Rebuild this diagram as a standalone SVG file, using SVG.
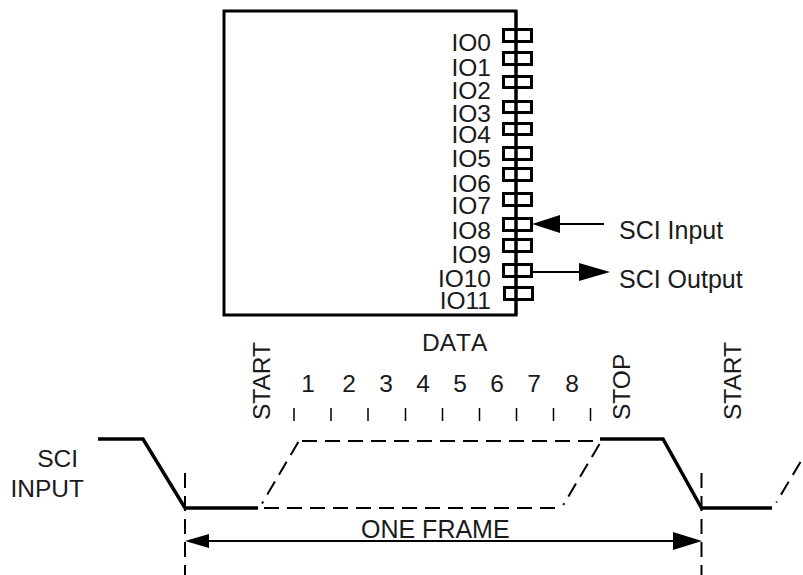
<svg xmlns="http://www.w3.org/2000/svg" width="803" height="575" viewBox="0 0 803 575">
<style>
text{font-family:"Liberation Sans",Arial,sans-serif;font-size:24.500px;fill:#1a1a1a}
.io{text-anchor:end}
.mid{text-anchor:middle}
.big{font-size:25px}
.pad{fill:none;stroke:#000;stroke-width:3}
.chip{fill:none;stroke:#000;stroke-width:3}
.sig{fill:none;stroke:#000;stroke-width:3.500}
.dash{fill:none;stroke:#000;stroke-width:2;stroke-dasharray:15 8}
.thin{fill:none;stroke:#000;stroke-width:2}
.tick{stroke:#000;stroke-width:1.500}
.head{fill:#000}
</style>
<g id="chip"><rect class="chip" x="224" y="11" width="292" height="304"/></g>
<g id="pin-io0"><rect class="pad" x="503.500" y="29.500" width="28" height="12"/><text class="io" x="491" y="51">IO0</text></g>
<g id="pin-io1"><rect class="pad" x="503.500" y="52.500" width="28" height="12"/><text class="io" x="491" y="76">IO1</text></g>
<g id="pin-io2"><rect class="pad" x="503.500" y="76.500" width="28" height="11"/><text class="io" x="491" y="99">IO2</text></g>
<g id="pin-io3"><rect class="pad" x="503.500" y="101.500" width="28" height="11"/><text class="io" x="491" y="122">IO3</text></g>
<g id="pin-io4"><rect class="pad" x="503.500" y="123.500" width="28" height="11"/><text class="io" x="491" y="143">IO4</text></g>
<g id="pin-io5"><rect class="pad" x="503.500" y="147.500" width="28" height="12"/><text class="io" x="491" y="167">IO5</text></g>
<g id="pin-io6"><rect class="pad" x="503.500" y="168.500" width="28" height="12"/><text class="io" x="491" y="192">IO6</text></g>
<g id="pin-io7"><rect class="pad" x="503.500" y="193.500" width="28" height="12"/><text class="io" x="491" y="214">IO7</text></g>
<g id="pin-io8"><rect class="pad" x="503.500" y="218.500" width="28" height="12"/><text class="io" x="491" y="239">IO8</text></g>
<g id="pin-io9"><rect class="pad" x="503.500" y="239.500" width="28" height="12"/><text class="io" x="491" y="263">IO9</text></g>
<g id="pin-io10"><rect class="pad" x="503.500" y="264.500" width="28" height="12"/><text class="io" x="491" y="287">IO10</text></g>
<g id="pin-io11"><rect class="pad" x="504.500" y="287.500" width="28" height="12"/><text class="io" x="491" y="309">IO11</text></g>
<g id="label-sci-input-port"><text class="big" x="619" y="239">SCI Input</text></g>
<g id="label-sci-output-port"><text class="big" x="619" y="288">SCI Output</text></g>
<g id="label-data"><text x="422" y="351" style="font-kerning:none">DATA</text></g>
<g id="label-bits">
<text class="mid" x="308" y="392">1</text><text class="mid" x="349" y="392">2</text><text class="mid" x="386" y="392">3</text><text class="mid" x="423" y="392">4</text><text class="mid" x="460" y="392">5</text><text class="mid" x="497" y="392">6</text><text class="mid" x="534" y="392">7</text><text class="mid" x="572" y="392">8</text>
</g>
<g id="label-start-1"><text transform="translate(270 420) rotate(-90)">START</text></g>
<g id="label-stop"><text transform="translate(629.500 420) rotate(-90)">STOP</text></g>
<g id="label-start-2"><text transform="translate(741 420) rotate(-90)">START</text></g>
<g id="label-sci-input"><text x="78" y="467" text-anchor="end">SCI</text><text x="84" y="497" text-anchor="end">INPUT</text></g>
<g id="label-one-frame"><text class="big" x="361" y="538">ONE FRAME</text></g>
<g id="connectors">
<path class="chip" d="M516 11V315"/>
<path class="thin" d="M604 224H535"/>
<path class="head" d="M532 224L560 215V233Z"/>
<path class="thin" d="M533 272H585"/>
<path class="head" d="M610 272L579 263V281Z"/>
<path class="tick" d="M294 408V421M331 408V421M368 408V421M405.500 408V421M442.500 408V421M479.500 408V421M516.500 408V421M553.500 408V421M590.500 408V421"/>
<path class="sig" d="M98 439H143L185 508H258"/>
<path class="sig" d="M600 439H663L701.500 508H772"/>
<path class="dash" d="M302 441H595"/>
<path class="dash" d="M264 508H555"/>
<path class="dash" d="M298.300 442L262 503.500"/>
<path class="dash" d="M599.500 444L563.300 505"/>
<path class="dash" d="M800.500 462L776.300 502.500"/>
<path class="dash" d="M185 473V575"/>
<path class="dash" d="M701.500 473V575"/>
<path class="thin" d="M205 541H680"/>
<path class="head" d="M185 541L209 534V548Z"/>
<path class="head" d="M702 541L673 532V550Z"/>
</g>
</svg>
